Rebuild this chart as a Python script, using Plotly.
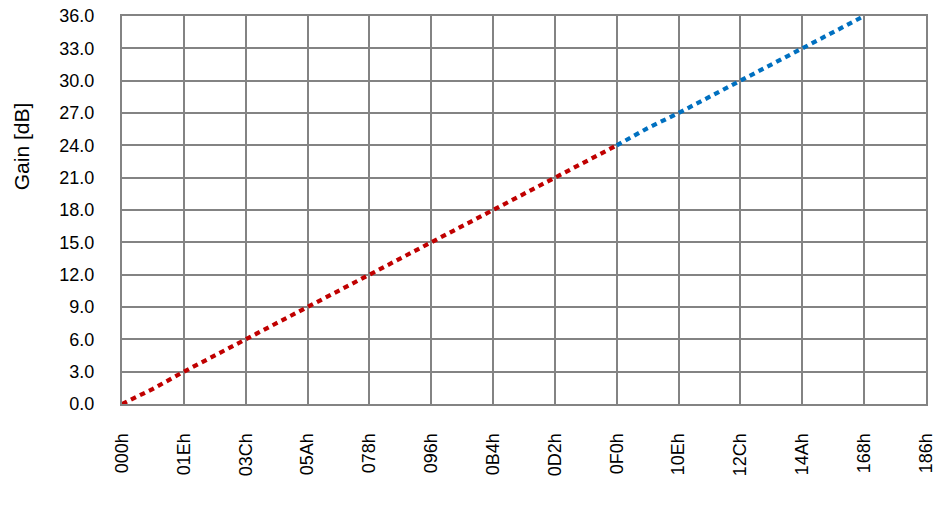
import plotly.graph_objects as go

# register code (decimal) and gain in dB
code_red = [0, 15, 30, 45, 60, 75, 90, 105, 120, 135, 150, 165, 180, 195, 210, 225, 240]
gain_red = [0.0, 1.4, 3.0, 4.5, 6.0, 7.5, 9.0, 10.5, 12.0, 13.5, 15.0, 16.5, 18.0, 19.5, 21.0, 22.6, 24.0]
code_blue = [240, 255, 270, 285, 300, 315, 330, 345, 360]
gain_blue = [24.0, 25.6, 27.0, 28.5, 30.0, 31.6, 33.0, 34.5, 36.0]

tick_vals = list(range(0, 391, 30))
tick_text = ["000h", "01Eh", "03Ch", "05Ah", "078h", "096h", "0B4h", "0D2h",
             "0F0h", "10Eh", "12Ch", "14Ah", "168h", "186h"]
y_vals = [i * 3 for i in range(13)]
y_text = [f"{v:.1f}" for v in y_vals]

fig = go.Figure()
fig.add_trace(go.Scatter(x=code_red, y=gain_red, mode="lines",
                         line=dict(color="#C00000", width=4.2, dash="5.5px,4.5px"),
                         cliponaxis=False, showlegend=False))
fig.add_trace(go.Scatter(x=code_blue, y=gain_blue, mode="lines",
                         line=dict(color="#0070C0", width=4.2, dash="5.5px,4.5px"),
                         cliponaxis=False, showlegend=False))

grid = "#838383"
fig.update_layout(
    width=946, height=516,
    margin=dict(l=122, r=20, t=16, b=112, autoexpand=False),
    paper_bgcolor="white", plot_bgcolor="white",
    font=dict(family="Liberation Sans, Arial, sans-serif", color="#000000"),
    xaxis=dict(range=[0, 390], tickmode="array", tickvals=tick_vals, ticktext=tick_text,
               tickangle=-90, tickfont=dict(size=18), ticklabelstandoff=20,
               ticklabeloverflow="allow",
               showgrid=True, gridcolor=grid, gridwidth=2, automargin=False,
               showline=True, linecolor=grid, linewidth=2, mirror=True,
               zeroline=False, ticks=""),
    yaxis=dict(range=[0, 36], tickmode="array", tickvals=y_vals, ticktext=y_text,
               tickfont=dict(size=18), ticklabelstandoff=22, automargin=False,
               ticklabeloverflow="allow",
               showgrid=True, gridcolor=grid, gridwidth=2,
               showline=True, linecolor=grid, linewidth=2, mirror=True,
               zeroline=False, ticks=""),
    annotations=[dict(text="Gain [dB]", textangle=-90, showarrow=False,
                      xref="paper", yref="paper", x=-0.125, y=0.663,
                      xanchor="center", yanchor="middle",
                      font=dict(size=21, color="#000000"))],
)

fig.write_html("out.html", config={"displayModeBar": False},
               post_script="document.body.style.margin='0';document.body.style.padding='0';")
